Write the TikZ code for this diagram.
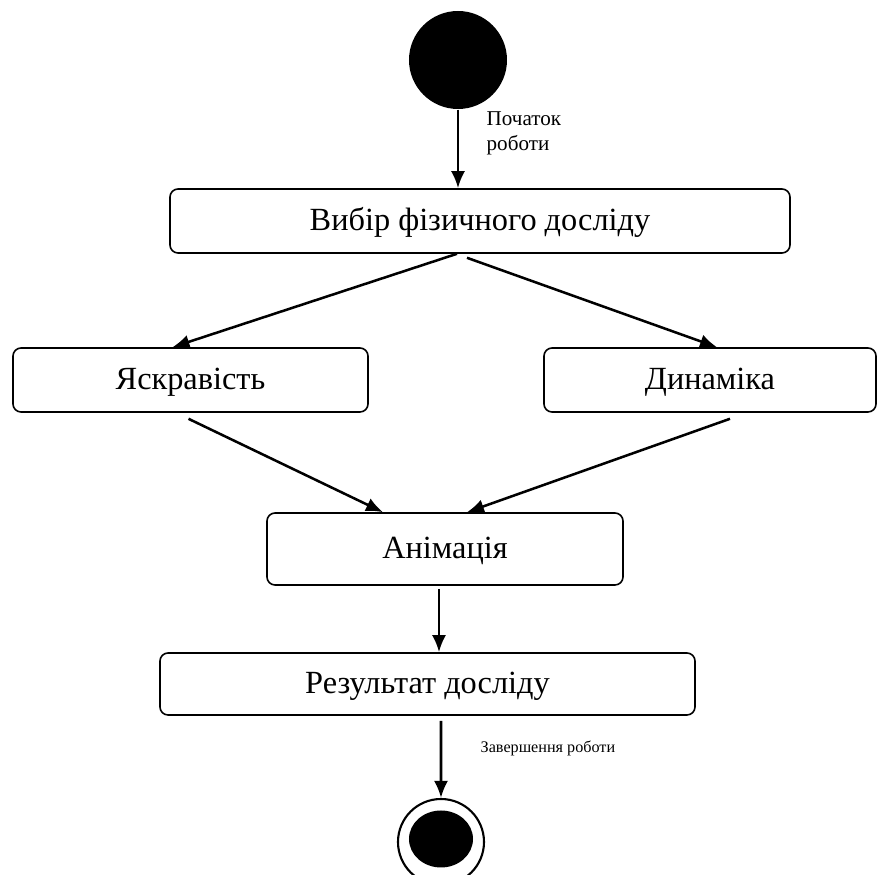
\documentclass[tikz,border=0pt]{standalone}
\usepackage{fontspec}
\setmainfont{Liberation Serif}
\usetikzlibrary{arrows.meta}

\tikzset{
  act/.style={draw, rounded corners=0.08cm, line width=0.45pt, inner sep=0pt,
    text height=0.2cm, text depth=0cm,
    font=\fontsize{9.2}{11}\selectfont},
  flow/.style={-{Latex[length=0.17cm,width=0.14cm]}, line width=0.72pt},
  note/.style={inner sep=0pt, align=left},
}

\begin{document}
\begin{tikzpicture}
  \useasboundingbox (0,0) rectangle (8.88,-8.75);

  \node[circle, fill, minimum size=0.98cm, inner sep=0]
    (start) at (4.58,-0.60) {};
  \node[note, anchor=north west, font=\fontsize{6.0}{7.1}\selectfont]
    (startlbl) at (4.86,-1.11) {Початок\\роботи};

  \node[act, minimum width=6.20cm, minimum height=0.64cm]
    (vybir) at (4.80,-2.21) {Вибір фізичного досліду};

  \node[act, minimum width=3.55cm, minimum height=0.64cm]
    (jaskr) at (1.905,-3.80) {Яскравість};

  \node[act, minimum width=3.32cm, minimum height=0.64cm]
    (dyn) at (7.10,-3.80) {Динаміка};

  \node[act, minimum width=3.56cm, minimum height=0.72cm]
    (anim) at (4.45,-5.49) {Анімація};

  \node[act, minimum width=5.35cm, minimum height=0.62cm]
    (rez) at (4.275,-6.84) {Результат досліду};

  \node[circle, draw, line width=0.6pt, minimum size=0.86cm, inner sep=0]
    (finish) at (4.41,-8.42) {};
  \fill ([yshift=0.03cm]finish.center) ellipse (0.32 and 0.285);

  \node[note, anchor=base west, font=\fontsize{4.6}{5.6}\selectfont]
    (endlbl) at (4.80,-7.53) {Завершення роботи};

  \draw[flow] (start.south) -- (start.south |- vybir.north);

  \draw[flow]
    ([xshift=-0.23cm]vybir.south) -- ([xshift=-0.18cm]jaskr.north);
  \draw[flow]
    ([xshift=-0.13cm,yshift=-0.04cm]vybir.south) -- ([xshift=0.07cm]dyn.north);

  \draw[flow]
    ([xshift=-0.02cm,yshift=-0.06cm]jaskr.south) -- ([xshift=-0.62cm]anim.north);
  \draw[flow]
    ([xshift=0.20cm,yshift=-0.06cm]dyn.south) -- ([xshift=0.22cm]anim.north);

  \draw[flow]
    ([xshift=-0.06cm,yshift=-0.03cm]anim.south) -- ([xshift=0.115cm]rez.north);
  \draw[flow]
    ([xshift=0.135cm,yshift=-0.05cm]rez.south) -- (finish.north);
\end{tikzpicture}
\end{document}
